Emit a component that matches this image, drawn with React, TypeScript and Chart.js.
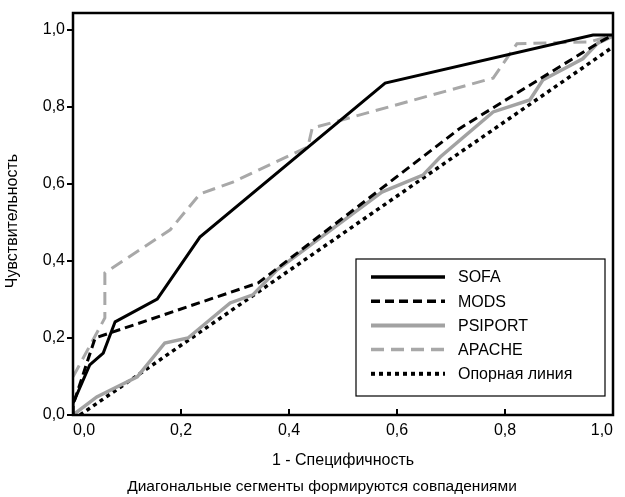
import React, { useEffect, useRef } from 'react';
import { Chart, registerables } from 'chart.js';

Chart.register(...registerables);

const seriesNames = ['SOFA', 'MODS', 'PSIPORT', 'APACHE', 'Опорная линия'];

const sofaX = [0, 0, 0.031, 0.056, 0.078, 0.156, 0.235, 0.578, 0.963, 1.0];
const sofaY = [0, 0.03, 0.13, 0.161, 0.242, 0.301, 0.462, 0.862, 0.987, 0.987];

const modsX = [0, 0, 0.041, 0.343, 0.717, 0.976, 1.0];
const modsY = [0, 0.026, 0.2, 0.343, 0.745, 0.969, 0.987];

const psiX = [0, 0.044, 0.119, 0.17, 0.213, 0.291, 0.333, 0.378, 0.572, 0.648, 0.68, 0.778, 0.846, 0.87, 0.944, 0.972, 1.0];
const psiY = [0, 0.047, 0.099, 0.187, 0.2, 0.291, 0.312, 0.377, 0.579, 0.623, 0.67, 0.787, 0.818, 0.87, 0.925, 0.966, 0.984];

const apacheX = [0, 0.044, 0.059, 0.059, 0.18, 0.235, 0.296, 0.435, 0.443, 0.778, 0.822, 0.957, 1.0];
const apacheY = [0.099, 0.213, 0.252, 0.369, 0.481, 0.574, 0.605, 0.696, 0.745, 0.875, 0.964, 0.969, 0.987];

const refX = [0.013, 1.0];
const refY = [0, 0.956];

const xTicks = [0, 0.2, 0.4, 0.6, 0.8, 1.0];
const yTicks = [0, 0.2, 0.4, 0.6, 0.8, 1.0];

const xTitle = '1 - Специфичность';
const yTitle = 'Чувствительность';
const footnote = 'Диагональные сегменты формируются совпадениями';

const FONT = '"Liberation Sans", Arial, Helvetica, sans-serif';

const fmt = (v: any) => Number(v).toFixed(1).replace('.', ',');

const toPts = (xs: number[], ys: number[]) => xs.map((x, i) => ({ x, y: ys[i] }));

const decorPlugin = {
  id: 'decor',
  afterDraw(chart: any) {
    const ctx = chart.ctx as CanvasRenderingContext2D;
    const a = chart.chartArea;
    const xs = chart.scales.x;
    ctx.save();
    // frame
    ctx.strokeStyle = '#000';
    ctx.lineWidth = 2.5;
    ctx.setLineDash([]);
    ctx.strokeRect(a.left, a.top, a.right - a.left, a.bottom - a.top);
    // inward x ticks
    ctx.lineWidth = 2;
    xTicks.forEach((v) => {
      const px = xs.getPixelForValue(v);
      ctx.beginPath();
      ctx.moveTo(px, a.bottom);
      ctx.lineTo(px, a.bottom - 6);
      ctx.stroke();
    });
    // legend
    const bx = 356, by = 259, bw = 249, bh = 137;
    ctx.fillStyle = '#fff';
    ctx.fillRect(bx, by, bw, bh);
    ctx.lineWidth = 1.2;
    ctx.strokeStyle = '#000';
    ctx.strokeRect(bx, by, bw, bh);
    ctx.font = `16px ${FONT}`;
    ctx.textBaseline = 'middle';
    ctx.textAlign = 'left';
    chart.data.datasets.forEach((ds: any, i: number) => {
      const y = by + 18 + i * 24.2;
      ctx.save();
      ctx.strokeStyle = ds.borderColor;
      ctx.lineWidth = ds.borderWidth + 0.5;
      ctx.lineCap = ds.borderCapStyle || 'butt';
      ctx.setLineDash(ds.borderDash || []);
      ctx.beginPath();
      ctx.moveTo(371, y);
      ctx.lineTo(445, y);
      ctx.stroke();
      ctx.restore();
      ctx.fillStyle = '#000';
      ctx.fillText(ds.label, 458, y + 1);
    });
    // titles
    ctx.fillStyle = '#000';
    ctx.textAlign = 'center';
    ctx.font = `16px ${FONT}`;
    ctx.fillText(xTitle, (a.left + a.right) / 2, 461);
    ctx.save();
    ctx.translate(13, 221);
    ctx.rotate(-Math.PI / 2);
    ctx.fillText(yTitle, 0, 0);
    ctx.restore();
    ctx.font = `15.5px ${FONT}`;
    ctx.fillText(footnote, 322, 487);
    ctx.restore();
  },
};

export default function App() {
  const ref = useRef<HTMLCanvasElement>(null);
  useEffect(() => {
    Chart.defaults.font.family = FONT;
    Chart.defaults.color = '#000';
    const chart = new Chart(ref.current as HTMLCanvasElement, {
      type: 'line',
      data: {
        datasets: [
          { label: seriesNames[0], data: toPts(sofaX, sofaY), borderColor: '#000', borderWidth: 3, borderDash: [] },
          { label: seriesNames[1], data: toPts(modsX, modsY), borderColor: '#000', borderWidth: 3, borderDash: [9, 5] },
          { label: seriesNames[2], data: toPts(psiX, psiY), borderColor: '#a2a2a2', borderWidth: 3.5, borderDash: [] },
          { label: seriesNames[3], data: toPts(apacheX, apacheY), borderColor: '#a8a8a8', borderWidth: 3, borderDash: [13, 7] },
          { label: seriesNames[4], data: toPts(refX, refY), borderColor: '#000', borderWidth: 3.5, borderDash: [4, 4] },
        ] as any,
      },
      options: {
        responsive: false,
        animation: false,
        devicePixelRatio: 1,
        layout: { padding: { top: 13, right: 12, left: 0, bottom: 0 } },
        plugins: { legend: { display: false }, tooltip: { enabled: false }, title: { display: false } },
        elements: { point: { radius: 0 }, line: { tension: 0, fill: false } },
        scales: {
          x: {
            type: 'linear',
            min: 0,
            max: 1,
            afterFit: (s: any) => { s.height = 82; },
            afterBuildTicks: (s: any) => { s.ticks = xTicks.map((v) => ({ value: v })); },
            ticks: { align: 'inner', padding: 6, font: { size: 16 }, color: '#000', callback: fmt, maxRotation: 0 },
            grid: { display: true, drawOnChartArea: false, drawTicks: false },
            border: { display: false },
          },
          y: {
            type: 'linear',
            min: 0,
            max: 1.044,
            afterFit: (s: any) => { s.width = 73; },
            afterBuildTicks: (s: any) => { s.ticks = yTicks.map((v) => ({ value: v })); },
            ticks: { padding: 2, font: { size: 16 }, color: '#000', callback: fmt },
            grid: { drawOnChartArea: false, tickLength: 6, color: '#000', lineWidth: 2 },
            border: { display: false },
          },
        },
      } as any,
      plugins: [decorPlugin],
    });
    return () => chart.destroy();
  }, []);
  return (
    <div style={{ position: 'fixed', left: 0, top: 0, width: 625, height: 497, background: '#fff' }}>
      <canvas ref={ref} width={625} height={497} style={{ display: 'block' }} />
    </div>
  );
}
